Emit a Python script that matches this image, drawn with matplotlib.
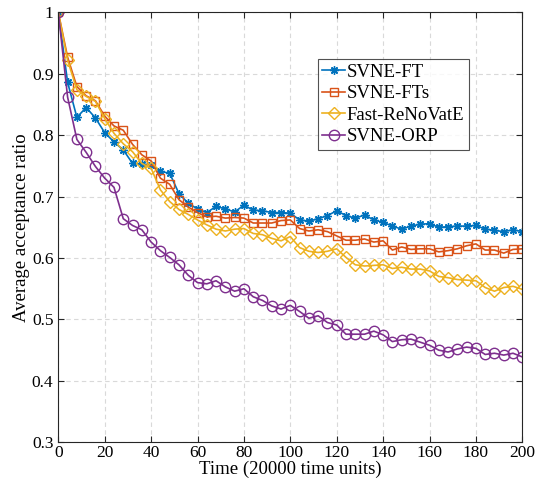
import numpy as np
import matplotlib.pyplot as plt

plt.rcParams['font.family'] = ['Liberation Serif', 'DejaVu Serif']

time = np.arange(0, 201, 4)

svne_ft = [1.0, 0.886, 0.829, 0.845, 0.828, 0.804, 0.789, 0.776, 0.754, 0.753,
           0.751, 0.741, 0.738, 0.705, 0.689, 0.680, 0.674, 0.684, 0.680, 0.675,
           0.686, 0.678, 0.677, 0.674, 0.674, 0.673, 0.662, 0.660, 0.664, 0.669,
           0.677, 0.669, 0.665, 0.670, 0.662, 0.658, 0.652, 0.647, 0.652, 0.655,
           0.656, 0.650, 0.651, 0.652, 0.652, 0.653, 0.647, 0.645, 0.643, 0.646,
           0.643]
svne_fts = [1.0, 0.927, 0.879, 0.864, 0.856, 0.831, 0.815, 0.808, 0.785, 0.768,
            0.758, 0.730, 0.720, 0.695, 0.683, 0.674, 0.667, 0.668, 0.665, 0.666,
            0.665, 0.657, 0.657, 0.657, 0.661, 0.662, 0.648, 0.644, 0.646, 0.643,
            0.636, 0.629, 0.629, 0.631, 0.626, 0.628, 0.613, 0.618, 0.614, 0.615,
            0.615, 0.610, 0.612, 0.615, 0.620, 0.623, 0.613, 0.613, 0.608, 0.614,
            0.615]
fast_renovate = [1.0, 0.922, 0.874, 0.863, 0.855, 0.827, 0.803, 0.786, 0.773, 0.754,
                 0.746, 0.711, 0.692, 0.679, 0.671, 0.662, 0.654, 0.647, 0.644, 0.647,
                 0.648, 0.640, 0.638, 0.632, 0.628, 0.635, 0.617, 0.611, 0.609, 0.611,
                 0.615, 0.601, 0.589, 0.587, 0.588, 0.589, 0.583, 0.585, 0.582, 0.582,
                 0.579, 0.570, 0.568, 0.565, 0.564, 0.563, 0.552, 0.546, 0.552, 0.554,
                 0.549]
svne_orp = [1.0, 0.862, 0.793, 0.772, 0.749, 0.730, 0.715, 0.664, 0.653, 0.646,
            0.626, 0.612, 0.601, 0.589, 0.572, 0.560, 0.558, 0.563, 0.553, 0.546,
            0.550, 0.537, 0.531, 0.522, 0.517, 0.523, 0.513, 0.502, 0.506, 0.495,
            0.491, 0.476, 0.476, 0.476, 0.481, 0.475, 0.464, 0.467, 0.468, 0.463,
            0.458, 0.450, 0.447, 0.452, 0.455, 0.453, 0.443, 0.445, 0.442, 0.445,
            0.439]

fig = plt.figure(figsize=(5.43, 4.88), dpi=100)
ax = fig.add_axes([0.1074, 0.0936, 0.8545, 0.8812])

ax.plot(time, svne_ft, color='#0072BD', marker=(8, 2, 0), markersize=6,
        linewidth=1.2, label='SVNE-FT')
ax.plot(time, svne_fts, color='#D95319', marker='s', markersize=6,
        markerfacecolor='none', linewidth=1.2, label='SVNE-FTs')
ax.plot(time, fast_renovate, color='#EDB120', marker='D', markersize=6.5,
        markerfacecolor='none', linewidth=1.2, label='Fast-ReNoVatE')
ax.plot(time, svne_orp, color='#7E2F8E', marker='o', markersize=7.5,
        markerfacecolor='none', linewidth=1.2, label='SVNE-ORP')

ax.set_xlim(0, 200)
ax.set_ylim(0.3, 1.0)
ax.set_xticks(range(0, 201, 20))
ax.set_yticks(np.arange(0.3, 1.01, 0.1))
ax.set_yticklabels(['0.3', '0.4', '0.5', '0.6', '0.7', '0.8', '0.9', '1'])
ax.grid(True, linestyle=(0, (4, 3)), color='#d9d9d9', linewidth=0.8)
ax.tick_params(direction='in', top=True, right=True, labelsize=12.5,
               length=4, color='#262626')
ax.tick_params(axis='x', pad=2)
for s in ax.spines.values():
    s.set_color('#262626')
    s.set_linewidth(0.8)

ax.set_xlabel('Time (20000 time units)', fontsize=13.5, labelpad=0)
ax.set_ylabel('Average acceptance ratio', fontsize=13.5, labelpad=1)

leg = ax.legend(loc='upper left', bbox_to_anchor=(0.559, 0.892), fontsize=13.5,
                frameon=True, fancybox=False, edgecolor='#262626',
                handlelength=1.2, handletextpad=0.1, borderpad=0.25,
                labelspacing=0.24, borderaxespad=0)
leg.get_frame().set_linewidth(0.8)

fig.savefig('out.png', dpi=100)
